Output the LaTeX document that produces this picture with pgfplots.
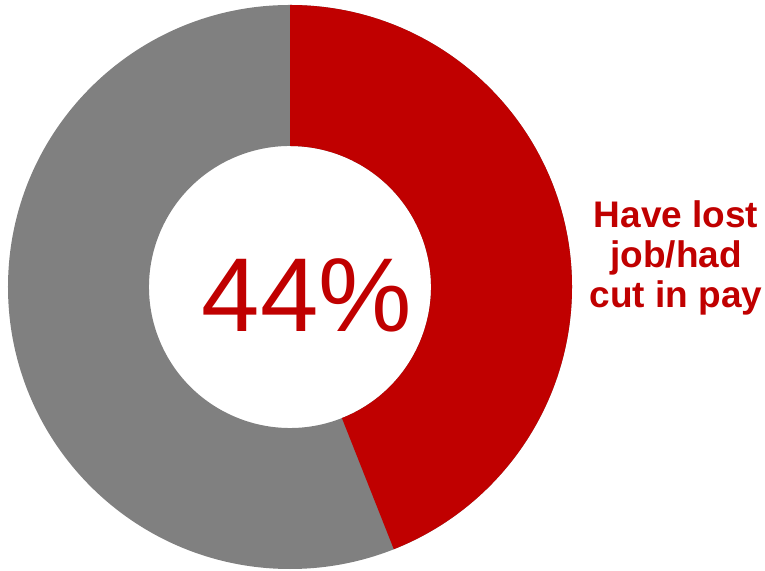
\documentclass[border=0pt]{standalone}
\usepackage{fontspec}
\setmainfont{Liberation Sans}
\usepackage{pgfplots}
\usepackage{pgfplotstable}
\pgfplotsset{compat=1.18}
\definecolor{cred}{HTML}{C00000}
\definecolor{cgray}{HTML}{808080}
\pgfplotstableread{
label value
lost 44
other 56
}\donutdata
\begin{document}
\begin{tikzpicture}
\pgfplotstablegetelem{0}{value}\of\donutdata
\let\lostval\pgfplotsretval
\pgfmathsetmacro{\endang}{90-3.6*\lostval}
\pgfmathsetmacro{\backang}{\endang+180}
\begin{axis}[x=1bp,y=1bp,xmin=0,xmax=765,ymin=0,ymax=571,hide axis,clip=false]
\path (axis cs:0,0) rectangle (axis cs:765,571);
\coordinate (c) at (axis cs:290,284);
\fill[cgray] (c) ++(90:282bp) arc[start angle=90,end angle=\endang-360,radius=282bp] -- ++(\backang:141bp) arc[start angle=\endang-360,end angle=90,radius=141bp] -- cycle;
\fill[cred] (c) ++(90:282bp) arc[start angle=90,end angle=\endang,radius=282bp] -- ++(\backang:141bp) arc[start angle=\endang,end angle=90,radius=141bp] -- cycle;
\node[text=cred,font=\fontsize{105bp}{110bp}\selectfont,inner sep=0pt] at (axis cs:307,276) {\lostval\%};
\node[text=cred,font=\fontsize{37bp}{40bp}\selectfont\bfseries,align=center,inner sep=0pt] at (axis cs:676,313) {Have lost\\job/had\\cut in pay};
\end{axis}
\end{tikzpicture}
\end{document}
